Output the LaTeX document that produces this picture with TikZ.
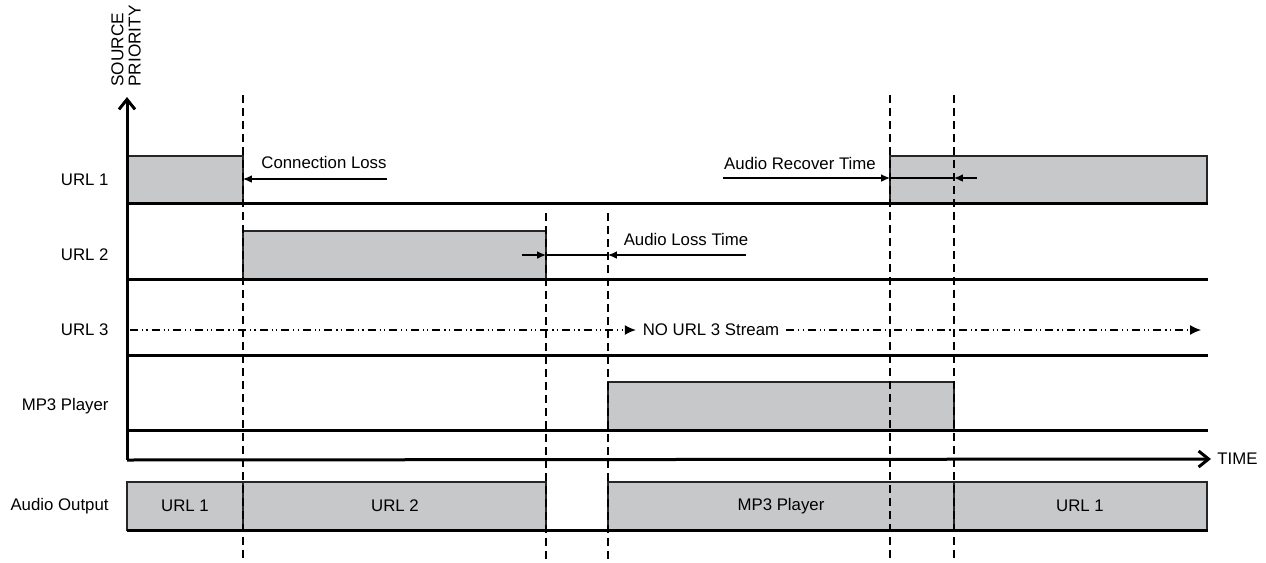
\documentclass[tikz,border=0pt]{standalone}
\usepackage{fontspec}
\setmainfont{Liberation Sans}
\usetikzlibrary{calc,positioning}
\usetikzlibrary{arrows.meta}
\tikzset{>={Latex[width=3.8pt,length=4.4pt]}}
\definecolor{boxgray}{RGB}{199,200,202}

\begin{document}
\begin{tikzpicture}[x=0.5pt,y=-0.5pt,font=\fontsize{8.4}{10}\selectfont]
        \tikzstyle{lnode} = [anchor=east, inner sep=0pt]
        \tikzstyle{bar} = [draw=black!85, fill=boxgray, line width=0.7pt]
        \tikzstyle{base} = [line width=1.5pt]
        \tikzstyle{tline} = [dash pattern=on 4pt off 2.5pt, line width=0.75pt]
        \tikzstyle{tarrow} = [line width=0.6pt]
        \tikzstyle{noline} = [dash pattern=on 4pt off 2pt on 0.6pt off 1.6pt on 0.6pt off 2pt, line width=0.6pt]
        \tikzstyle{axis} = [line width=1.5pt, -{Straight Barb[width=8pt,length=5pt]}]

        \useasboundingbox (0,0) rectangle (1266,563);

        % time marks
        \coordinate (t1) at (243,95);  \coordinate (t1e) at (243,563);
        \coordinate (t2) at (546,213); \coordinate (t2e) at (546,563);
        \coordinate (t3) at (608,213); \coordinate (t3e) at (608,563);
        \coordinate (t4) at (890,95);  \coordinate (t4e) at (890,563);
        \coordinate (t5) at (954,95);  \coordinate (t5e) at (954,563);

        % row labels
        \node[lnode] (url1) at (109,180) {URL 1};
        \node[lnode] (url2) at (109,255) {URL 2};
        \node[lnode] (url3) at (109,330) {URL 3};
        \node[lnode] (mp3) at (109,406) {MP3 Player};
        \node[lnode] (aout) at (109,506) {Audio Output};

        % source bars
        \draw[bar] (127,156) rectangle (243,203);
        \draw[bar] (890,156) rectangle (1207,203);
        \draw[bar] (243,231) rectangle (546,279);
        \draw[bar] (608,382) rectangle (954,430);

        % audio output
        \draw[bar] (127,482) rectangle (243,530);
        \node (ao1) at (185,506) {URL 1};
        \draw[bar] (243,482) rectangle (546,530);
        \node (ao2) at (395,506) {URL 2};
        \draw[bar] (608,482) rectangle (954,530);
        \node (ao3) at (781,506) {MP3 Player};
        \draw[bar] (954,482) rectangle (1207,530);
        \node (ao4) at (1080,506) {URL 1};

        \foreach \y in {203,279,355,430,530}
          \draw[base] (127,\y) -- (1208,\y);

        % axes
        \coordinate (o) at (127,460);
        \coordinate (ytop) at (127,97);
        \coordinate (xend) at (1211,459);
        \draw[axis] (o) -- (ytop);
        \draw[axis] (o) -- (xend);
        \node[right=3pt of xend, inner sep=0pt] (time) {TIME};
        \node[rotate=90, anchor=west, align=left, inner sep=0pt,
              font=\fontsize{8.6}{8.6}\selectfont] (prio) at (126,87) {SOURCE\\PRIORITY};

        % texts
        \node (closs) at (324,162) {Connection Loss};
        \node (arec) at (800,163) {Audio Recover Time};
        \node (aloss) at (686,239) {Audio Loss Time};
        \node (nourl) at (711,330) {NO URL 3 Stream};

        % arrows
        \coordinate (clr) at (387,179);
        \draw[tarrow,->] (clr) -- (clr -| t1);
        \coordinate (arl) at (723,178);
        \coordinate (arr) at (977,178);
        \draw[tarrow,->] (arl) -- (arl -| t4);
        \draw[tarrow] (arl -| t4) -- (arl -| t5);
        \draw[tarrow,->] (arr) -- (arr -| t5);
        \coordinate (all) at (522,255);
        \coordinate (alr) at (746,255);
        \draw[tarrow,->] (all) -- (all -| t2);
        \draw[tarrow] (all -| t2) -- (all -| t3);
        \draw[tarrow,->] (alr) -- (alr -| t3);
        \coordinate (u3s) at (130,330);
        \coordinate (u3e) at (1201,330);
        \draw[noline,-{Latex[width=5pt,length=5.5pt]}] (u3s) -- (nourl.west);
        \draw[noline,-{Latex[width=5pt,length=5.5pt]}] (nourl.east) -- (u3e);

        % dashed time lines
        \foreach \t in {t1,t2,t3,t4,t5}
          \draw[tline] (\t) -- (\t e);
\end{tikzpicture}
\end{document}
